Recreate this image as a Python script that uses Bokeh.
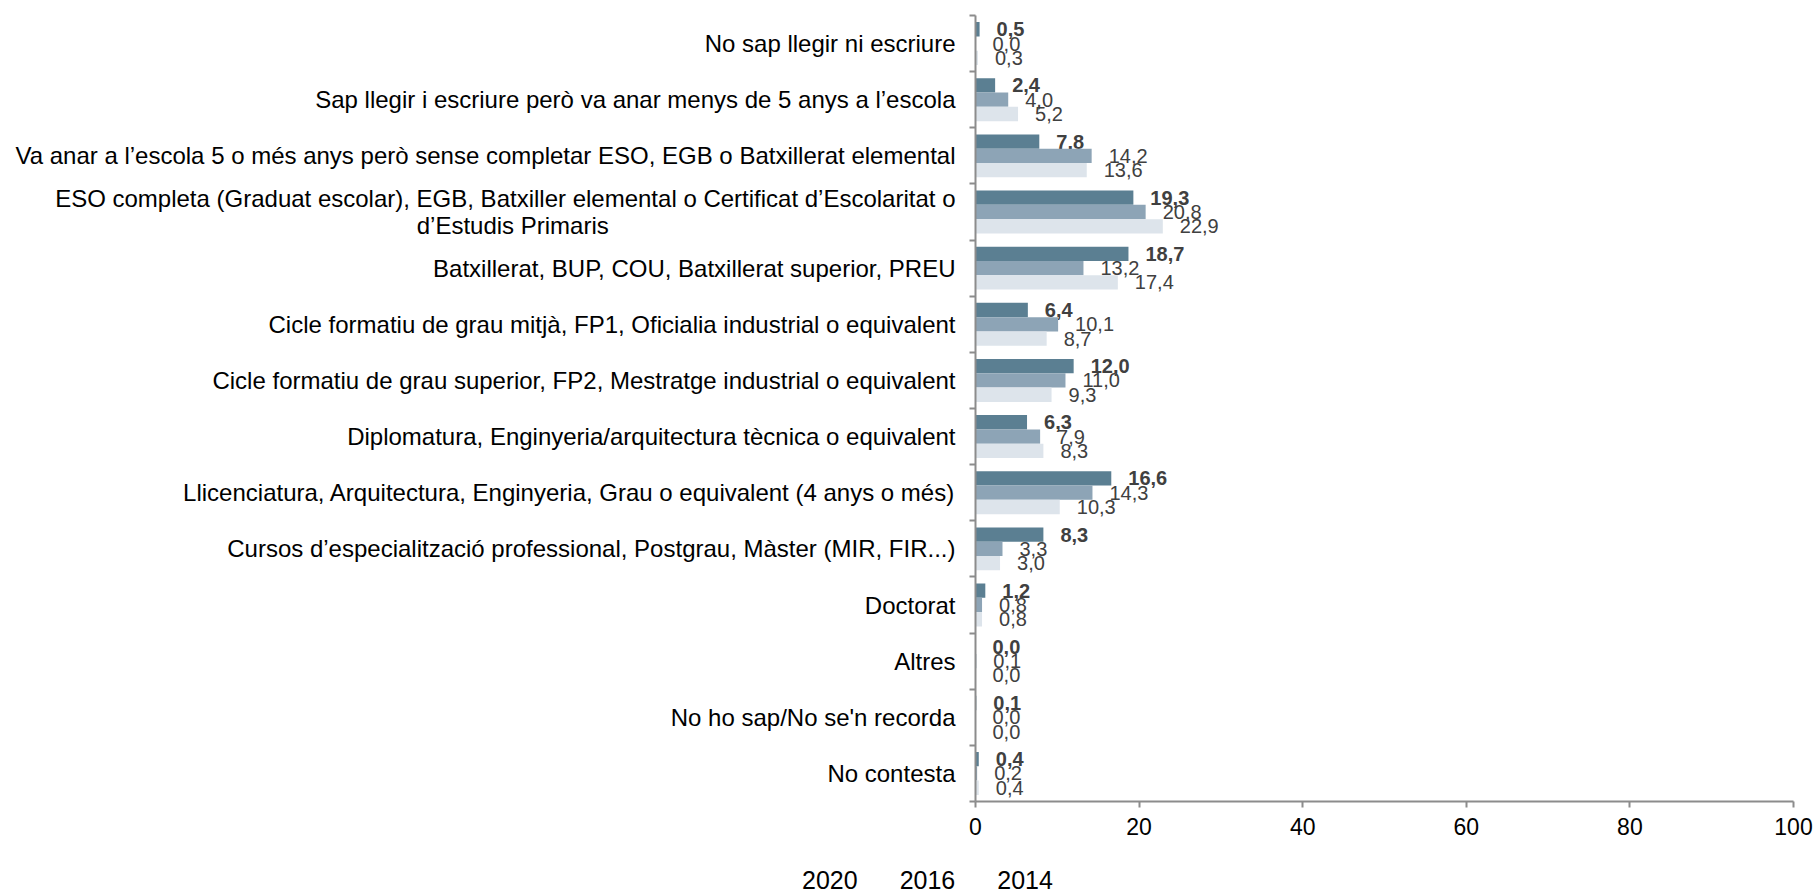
from bokeh.plotting import figure
from bokeh.models import (FactorRange, Range1d, LinearAxis, CategoricalAxis, FixedTicker,
                          Legend, LegendItem, ColumnDataSource)
from bokeh.transform import dodge
from bokeh.core.properties import value
from bokeh.embed import file_html
from bokeh.resources import INLINE

NBSP = "\u00a0"
categories = [
    "No sap llegir ni escriure",
    "Sap llegir i escriure però va anar menys de 5 anys a l’escola",
    "Va anar a l’escola 5 o més anys però sense completar ESO, EGB o Batxillerat elemental",
    "ESO completa (Graduat escolar), EGB, Batxiller elemental o Certificat d’Escolaritat o\nd’Estudis Primaris" + NBSP * 52,
    "Batxillerat, BUP, COU, Batxillerat superior, PREU",
    "Cicle formatiu de grau mitjà, FP1, Oficialia industrial o equivalent",
    "Cicle formatiu de grau superior, FP2, Mestratge industrial o equivalent",
    "Diplomatura, Enginyeria/arquitectura tècnica o equivalent",
    "Llicenciatura, Arquitectura, Enginyeria, Grau o equivalent (4 anys o més)",
    "Cursos d’especialització professional, Postgrau, Màster (MIR, FIR...)",
    "Doctorat",
    "Altres",
    "No ho sap/No se'n recorda",
    "No contesta",
]
years = ["2020", "2016", "2014"]
v2020 = [0.5, 2.4, 7.8, 19.3, 18.7, 6.4, 12.0, 6.3, 16.6, 8.3, 1.2, 0.0, 0.1, 0.4]
v2016 = [0.0, 4.0, 14.2, 20.8, 13.2, 10.1, 11.0, 7.9, 14.3, 3.3, 0.8, 0.1, 0.0, 0.2]
v2014 = [0.3, 5.2, 13.6, 22.9, 17.4, 8.7, 9.3, 8.3, 10.3, 3.0, 0.8, 0.0, 0.0, 0.4]
x_ticks = [0, 20, 40, 60, 80, 100]

colors = ["#5B7F92", "#8DA4B6", "#DDE4EB"]
FONT = "Liberation Sans"
AXIS_GRAY = "#8C8C8C"


def fmt(v):
    return f"{v:.1f}".replace(".", ",")


src = ColumnDataSource(dict(
    cat=categories,
    v2020=v2020, v2016=v2016, v2014=v2014,
    l2020=[fmt(v) for v in v2020],
    l2016=[fmt(v) for v in v2016],
    l2014=[fmt(v) for v in v2014],
))

p = figure(frame_width=818, frame_height=786,
           y_range=FactorRange(*categories[::-1]),
           x_range=Range1d(0, 100),
           y_axis_location=None,
           output_backend="svg", toolbar_location=None,
           min_border_left=975, min_border_right=24,
           min_border_top=15, min_border_bottom=55)
p.outline_line_color = None
for g in p.grid:
    g.visible = False

# boundary tick axis (closest to frame): ticks between categories (synthetic coords)
bticks = list(range(len(categories) + 1))
baxis = LinearAxis(ticker=FixedTicker(ticks=bticks),
                   major_label_overrides={t: "" for t in bticks},
                   major_label_text_font_size="0px", major_label_standoff=0,
                   major_tick_out=6, major_tick_in=0,
                   minor_tick_line_color=None,
                   axis_line_color=AXIS_GRAY, axis_line_width=2,
                   major_tick_line_color=AXIS_GRAY, major_tick_line_width=2)
p.add_layout(baxis, "left")

caxis = CategoricalAxis(major_tick_line_color=None, major_tick_out=0, major_tick_in=0,
                        minor_tick_line_color=None, axis_line_color=None,
                        major_label_text_font_size="24px",
                        major_label_text_font=FONT,
                        major_label_text_color="#000000",
                        major_label_text_line_height=1.0,
                        major_label_standoff=14)
p.add_layout(caxis, "left")

xa = p.xaxis[0]
xa.ticker = FixedTicker(ticks=x_ticks)
xa.axis_line_color = AXIS_GRAY
xa.axis_line_width = 2
xa.major_tick_line_color = AXIS_GRAY
xa.major_tick_line_width = 2
xa.major_tick_out = 6
xa.major_tick_in = 0
xa.minor_tick_line_color = None
xa.major_label_text_font_size = "23px"
xa.major_label_text_font = FONT
xa.major_label_text_color = "#000000"
xa.major_label_standoff = 10

H = 0.255
offsets = [H, 0.0, -H]
for yr, col, off in zip(years, colors, offsets):
    p.hbar(y=dodge("cat", off, range=p.y_range), left=0, right="v" + yr,
           height=H, fill_color=col, line_color=None, source=src)
    p.text(x="v" + yr, y=dodge("cat", off, range=p.y_range), text="l" + yr,
           x_offset=17, text_align="left", text_baseline="middle",
           text_font=value(FONT), text_font_size=value("20px"),
           text_font_style="bold" if yr == "2020" else "normal",
           text_color="#404040", source=src)

# legend strip: a separate root (no frame alignment with the chart)
pl = figure(width=1817, height=34, x_range=Range1d(0, 1), y_range=Range1d(0, 1),
            x_axis_location=None, y_axis_location=None,
            output_backend="svg", toolbar_location=None,
            min_border_left=0, min_border_right=0, min_border_top=0, min_border_bottom=0)
pl.outline_line_color = None
for g in pl.grid:
    g.visible = False
leg_src = ColumnDataSource(dict(y=[], right=[]))
leg_renderers = [pl.hbar(y="y", right="right", left=0, height=0.5, fill_color=col,
                         line_color=None, source=leg_src) for col in colors]
legend = Legend(items=[LegendItem(label=yr, renderers=[r]) for yr, r in zip(years, leg_renderers)],
                location=(785, -5), orientation="horizontal",
                glyph_width=12, glyph_height=12, label_standoff=5, spacing=25,
                label_height=28,
                padding=0, margin=0, border_line_color=None, background_fill_alpha=0,
                label_text_font_size="25px", label_text_font=FONT,
                label_text_color="#000000")
pl.add_layout(legend)

open("out.html", "w").write(file_html([p, pl], INLINE))
